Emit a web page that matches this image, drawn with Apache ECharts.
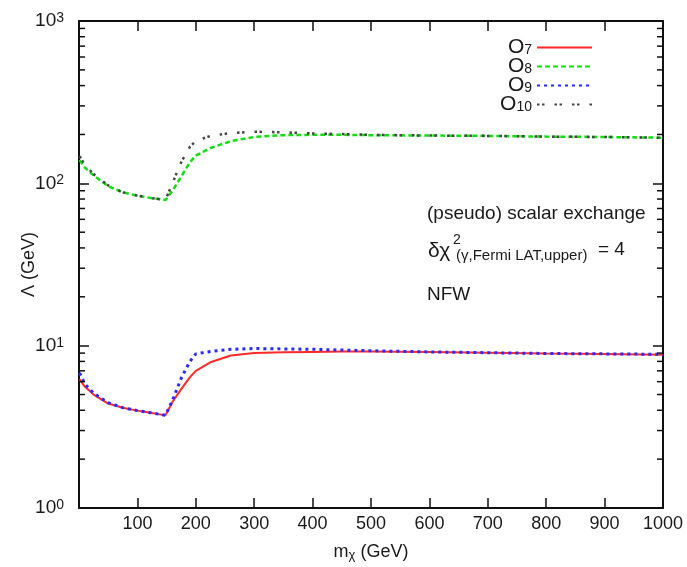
<!DOCTYPE html>
<html>
<head>
<meta charset="utf-8">
<script src="https://cdn.jsdelivr.net/npm/echarts@6/dist/echarts.min.js"></script>
<style>
  html, body { margin: 0; padding: 0; background: #fff; }
  #chart { width: 687px; height: 567px; }
</style>
</head>
<body>
<div id="chart"></div>
<script>
// dark matter mass (GeV), shared by all four curves
const mass = [1, 10, 25, 50, 75, 100, 125, 148, 160, 175, 190, 200, 225, 260, 300, 350, 400, 450, 500, 600, 700, 800, 900, 1000];

// Lambda (GeV)
const o7  = [6.2, 5.6, 5.0, 4.4, 4.15, 3.98, 3.85, 3.72, 4.5, 5.4, 6.4, 7.0, 7.9, 8.7, 9.0, 9.1, 9.15, 9.2, 9.2, 9.15, 9.05, 8.95, 8.9, 8.8];
const o8  = [139, 125, 112, 96, 88, 84, 81, 79, 90, 110, 135, 148, 165, 182, 193, 198, 199, 199, 198, 197, 196, 194, 193, 191];
const o9  = [6.8, 5.8, 5.1, 4.45, 4.15, 3.98, 3.85, 3.72, 4.6, 6.3, 8.0, 8.9, 9.2, 9.5, 9.6, 9.55, 9.5, 9.4, 9.3, 9.15, 9.05, 8.95, 8.9, 8.85];
const o10 = [147, 130, 114, 97, 88, 84, 81, 79, 100, 135, 168, 182, 196, 204, 208, 206, 203, 201, 199, 197, 196, 194, 193, 191];

const names = ['O7', 'O8', 'O9', 'O10'];
const yDecades = [1, 10, 100, 1000];

// minor ticks of the log axis at 2..9 in each decade
const minorVals = [];
yDecades.slice(0, 3).forEach(d => { for (let k = 2; k <= 9; k++) minorVals.push(d * k); });

const FONT = 'Liberation Sans, Arial, Helvetica, sans-serif';
const TXT = '#1a1a1a';

function pairs(ys) { return mass.map((m, i) => [m, ys[i]]); }

const styles = [
  { color: '#ff2a2a', width: 2, type: 'solid' },
  { color: '#11dd11', width: 2.5, type: [5, 3] },
  { color: '#2a2aff', width: 3, type: [3, 4] },
  { color: '#444444', width: 2.5, type: [2.5, 2.5, 2.5, 10] }
];
const values = [o7, o8, o9, o10];

const series = names.map((n, i) => ({
  name: n,
  type: 'line',
  symbol: 'none',
  showSymbol: false,
  xAxisIndex: 0,
  yAxisIndex: 0,
  data: pairs(values[i]),
  lineStyle: { color: styles[i].color, width: styles[i].width, type: styles[i].type },
  itemStyle: { color: styles[i].color },
  z: 3 + i
}));

series.push({
  type: 'custom',
  silent: true,
  xAxisIndex: 0,
  yAxisIndex: 0,
  data: minorVals.map(v => [0, v]),
  renderItem: function (params, api) {
    const v = api.value(1);
    const l = api.coord([0, v]);
    const r = api.coord([1000, v]);
    return {
      type: 'group',
      children: [
        { type: 'line', shape: { x1: l[0], y1: l[1], x2: l[0] + 6, y2: l[1] }, style: { stroke: '#111', lineWidth: 1.5 } },
        { type: 'line', shape: { x1: r[0] - 6, y1: r[1], x2: r[0], y2: r[1] }, style: { stroke: '#111', lineWidth: 1.5 } }
      ]
    };
  },
  z: 10
});

const legendRich = {
  o: { fontSize: 21, fontFamily: FONT, color: TXT, lineHeight: 20 },
  s: { fontSize: 14, fontFamily: FONT, color: TXT, lineHeight: 6, verticalAlign: 'bottom' }
};

const legends = names.map((n, i) => ({
  data: [n],
  orient: 'vertical',
  right: 94,
  top: 37 + i * 19,
  align: 'right',
  itemWidth: 55,
  itemHeight: 14,
  padding: 0,
  itemStyle: { opacity: 0 },
  textStyle: { rich: legendRich },
  formatter: function (name) { return '{o|O}{s|' + name.slice(1) + '}'; }
}));

const axisLine = { show: true, onZero: false, lineStyle: { color: '#111', width: 2 } };

const option = {
  animation: false,
  backgroundColor: '#fff',
  grid: { left: 79, right: 24, top: 21, bottom: 59, outerBoundsMode: 'none' },
  legend: legends,
  xAxis: [
    {
      type: 'value', min: 0, max: 1000, interval: 100, position: 'bottom',
      axisLine: axisLine,
      axisTick: { show: true, inside: true, length: 10, lineStyle: { color: '#111', width: 1.5 } },
      splitLine: { show: false },
      axisLabel: {
        margin: 7, fontSize: 18, fontFamily: FONT, color: TXT,
        formatter: v => (v === 0 ? '' : String(v))
      },
      name: '{a|m}{s|χ}{a| (GeV)}',
      nameLocation: 'middle',
      nameGap: 34,
      nameTextStyle: {
        rich: {
          a: { fontSize: 18, fontFamily: FONT, color: TXT, lineHeight: 20 },
          s: { fontSize: 13, fontFamily: FONT, color: TXT, lineHeight: 8, verticalAlign: 'bottom' }
        }
      }
    },
    {
      type: 'value', min: 0, max: 1000, interval: 100, position: 'top',
      axisLine: axisLine,
      axisTick: { show: true, inside: true, length: 10, lineStyle: { color: '#111', width: 1.5 } },
      splitLine: { show: false },
      axisLabel: { show: false }
    }
  ],
  yAxis: [
    {
      type: 'log', logBase: 10, min: 1, max: 1000, position: 'left',
      axisLine: axisLine,
      axisTick: { show: true, inside: true, length: 10, lineStyle: { color: '#111', width: 1.5 } },
      splitLine: { show: false },
      axisLabel: {
        margin: 15, fontFamily: FONT, color: TXT,
        formatter: v => '{a|10}{p|' + Math.round(Math.log10(v)) + '}',
        rich: {
          a: { fontSize: 19, fontFamily: FONT, color: TXT, lineHeight: 20 },
          p: { fontSize: 14, fontFamily: FONT, color: TXT, lineHeight: 6, verticalAlign: 'top' }
        }
      },
      name: 'Λ (GeV)',
      nameLocation: 'middle',
      nameRotate: 90,
      nameGap: 41,
      nameMoveOverlap: false,
      nameTextStyle: { fontSize: 18, fontFamily: FONT, color: TXT }
    },
    {
      type: 'log', logBase: 10, min: 1, max: 1000, position: 'right',
      axisLine: axisLine,
      axisTick: { show: true, inside: true, length: 10, lineStyle: { color: '#111', width: 1.5 } },
      splitLine: { show: false },
      axisLabel: { show: false }
    }
  ],
  graphic: [
    { type: 'text', x: 427, y: 214, style: { text: '(pseudo) scalar exchange', font: '19px ' + FONT, fill: TXT, verticalAlign: 'middle' } },
    { type: 'text', x: 428, y: 251, style: { text: 'δχ', font: '21px ' + FONT, fill: TXT, verticalAlign: 'middle' } },
    { type: 'text', x: 453, y: 240, style: { text: '2', font: '14px ' + FONT, fill: TXT, verticalAlign: 'middle' } },
    { type: 'text', x: 456, y: 256, style: { text: '(γ,Fermi LAT,upper)', font: '15px ' + FONT, fill: TXT, verticalAlign: 'middle' } },
    { type: 'text', x: 598, y: 250, style: { text: '= 4', font: '19px ' + FONT, fill: TXT, verticalAlign: 'middle' } },
    { type: 'text', x: 427, y: 295, style: { text: 'NFW', font: '19px ' + FONT, fill: TXT, verticalAlign: 'middle' } }
  ],
  series: series
};

echarts.init(document.getElementById('chart')).setOption(option);
</script>
</body>
</html>
